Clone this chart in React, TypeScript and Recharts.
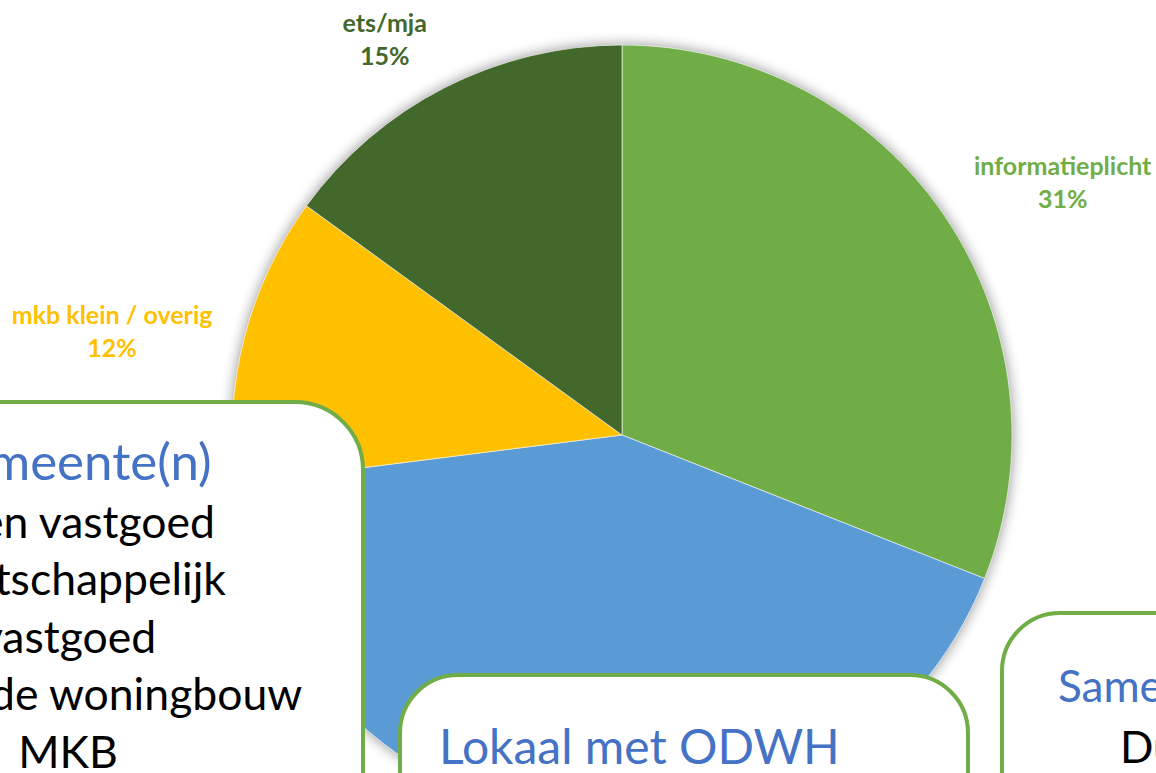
import { PieChart, Pie, Cell } from 'recharts';

// share per sector (%), clockwise from 12 o'clock
const categories = ['informatieplicht', 'gemeente(n)', 'mkb klein / overig', 'ets/mja'];
const shares = [31, 42, 12, 15];
const sliceColors = ['#70AD47', '#5B9BD5', '#FFC000', '#43682B'];

// text of the callout boxes laid over the chart
const gemeenteLines = ['Eigen vastgoed', 'Maatschappelijk', 'vastgoed', 'Bestaande woningbouw', 'MKB'];
const lokaalTitle = 'Lokaal met ODWH';
const samenTitle = 'Samenwerking';
const samenLines = ['Duurzaamheid'];

const data = categories.map((name, i) => ({ name, value: shares[i] }));

const W = 1156;
const H = 773;
const FONT = 'Lato, "Open Sans", sans-serif';
const BLUE = '#4472C4';
const BORDER = '#70AD47';

const renderLabel = (props: any) => {
    const { cx, cy, midAngle, outerRadius, percent, name, index } = props;
    const rad = Math.PI / 180;
    const cos = Math.cos(midAngle * rad);
    const sin = Math.sin(midAngle * rad);
    const px = cx + (outerRadius + 20) * cos;
    const py = cy - (outerRadius + 20) * sin;
    const pct = `${Math.round(percent * 100)}%`;
    const halfW = Math.max(name.length, pct.length) * 5.6;
    const tx = px + (cos >= 0 ? 1 : -1) * (halfW + 12);
    // box sits above the point when the slice points up, centred when it points sideways
    const lift = Math.min(1, Math.max(0, (Math.abs(sin) - 0.2) / 0.5)) * (sin >= 0 ? 1 : -1);
    const ty = py - 32 * lift;
    const color = sliceColors[index % sliceColors.length];
    return (
        <g>
            <text x={tx} y={ty - 16} textAnchor="middle" dominantBaseline="central" fill={color}
                fontFamily={FONT} fontWeight={700} fontSize={25}>{name}</text>
            <text x={tx} y={ty + 17} textAnchor="middle" dominantBaseline="central" fill={color}
                fontFamily={FONT} fontWeight={700} fontSize={25}>{pct}</text>
        </g>
    );
};

const lineStyle = (left: number, baseline: number, size: number, color: string, width?: number) => ({
    position: 'absolute' as const,
    left,
    width,
    top: baseline - 0.887 * size,
    fontSize: size,
    lineHeight: `${size}px`,
    color,
    fontFamily: FONT,
    whiteSpace: 'nowrap' as const,
    textAlign: (width ? 'center' : 'left') as any,
});

const boxStyle = (left: number, top: number, width: number, radius: number) => ({
    position: 'absolute' as const,
    left,
    top,
    width,
    height: 600,
    boxSizing: 'border-box' as const,
    border: `4px solid ${BORDER}`,
    borderRadius: radius,
    background: '#ffffff',
});

export default function App() {
    return (
        <div style={{ position: 'absolute', left: 0, top: 0, width: W, height: H, overflow: 'hidden', background: '#fff' }}>
            <style>{`.pie-shadow .recharts-sector { filter: url(#pieShadow); }`}</style>
            <svg width="0" height="0" style={{ position: 'absolute' }}>
                <defs>
                    <filter id="pieShadow" x="-30%" y="-30%" width="160%" height="160%">
                        <feGaussianBlur in="SourceAlpha" stdDeviation="7" />
                        <feComponentTransfer>
                            <feFuncA type="linear" slope="0.45" />
                        </feComponentTransfer>
                    </filter>
                </defs>
            </svg>

            <PieChart width={W} height={H} margin={{ top: 0, right: 0, bottom: 0, left: 0 }}>
                {/* soft shadow behind the pie */}
                <Pie
                    data={data}
                    dataKey="value"
                    className="pie-shadow"
                    cx={622}
                    cy={435}
                    outerRadius={390}
                    startAngle={90}
                    endAngle={-270}
                    fill="#ffffff"
                    stroke="none"
                    isAnimationActive={false}
                />
                <Pie
                    data={data}
                    dataKey="value"
                    nameKey="name"
                    cx={622}
                    cy={435}
                    outerRadius={390}
                    startAngle={90}
                    endAngle={-270}
                    stroke="#ffffff"
                    strokeWidth={1}
                    strokeOpacity={0.6}
                    label={renderLabel}
                    labelLine={false}
                    isAnimationActive={false}
                >
                    {data.map((entry, index) => (
                        <Cell key={`cell-${index}`} fill={sliceColors[index % sliceColors.length]} />
                    ))}
                </Pie>
            </PieChart>

            {/* Gemeente(n) box */}
            <div style={boxStyle(-229, 400, 594, 70)} />
            <div style={lineStyle(-332, 480, 51, BLUE, 800)}>Gemeente(n)</div>
            {gemeenteLines.map((t, i) => (
                <div key={t} style={lineStyle(-332, 538 + i * 57.5, 44.5, '#000000', 800)}>{t}</div>
            ))}

            {/* Lokaal box */}
            <div style={boxStyle(398, 673, 572, 60)} />
            <div style={lineStyle(439, 765, 48, BLUE)}>{lokaalTitle}</div>

            {/* Samen box */}
            <div style={boxStyle(1000, 611, 572, 60)} />
            <div style={lineStyle(1058, 702, 44, BLUE)}>{samenTitle}</div>
            {samenLines.map((t, i) => (
                <div key={t} style={lineStyle(1120, 763 + i * 57.5, 44, '#000000')}>{t}</div>
            ))}
        </div>
    );
}
